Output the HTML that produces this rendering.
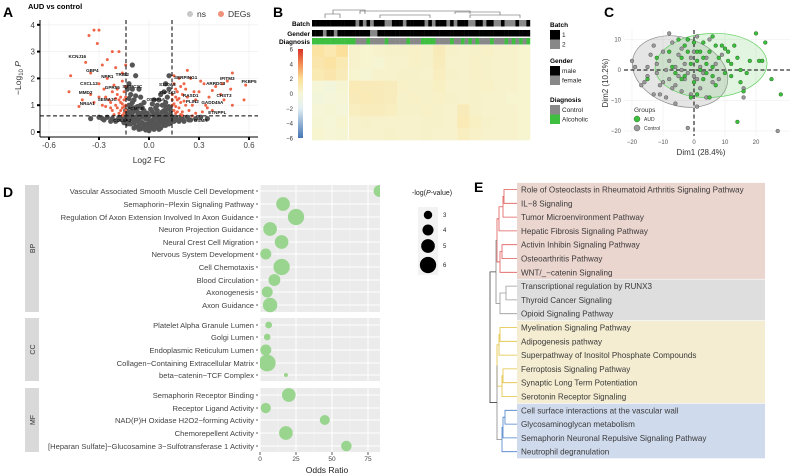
<!DOCTYPE html>
<html><head><meta charset="utf-8">
<style>
html,body{margin:0;padding:0;background:#fff;}
svg{display:block;font-family:"Liberation Sans",Arial,sans-serif;}
</style></head>
<body>
<svg id="fig" width="790" height="475" viewBox="0 0 790 475" xmlns="http://www.w3.org/2000/svg">
<g id="gA"></g>
<g id="gB"></g>
<g id="gC"></g>
<g id="gD"></g>
<g id="gE"></g>
</svg>
<script>
// ---------- Panel A data ----------
const aXTicks=[-0.6,-0.3,0.0,0.3,0.6];
const aYTicks=[0,1,2,3,4];
const aRed=[[-0.33,3.8],[-0.30,3.8],[-0.36,3.6],[-0.31,3.3],[-0.38,2.6],[-0.47,2.1],[-0.48,1.5],[-0.42,0.95],[-0.35,2.2],[-0.28,2.5],[-0.22,3.0],[-0.18,3.0],[-0.20,2.4],[-0.25,2.0],[-0.16,1.9],[-0.30,1.8],[-0.27,1.6],[-0.22,1.5],[-0.19,1.4],[-0.17,1.3],[-0.15,1.2],[-0.24,1.2],[-0.30,1.3],[-0.33,1.1],[-0.20,1.0],[-0.16,0.9],[-0.14,0.8],[-0.18,0.7],[-0.22,0.8],[-0.26,0.95],[-0.15,1.5],[-0.21,1.75],[-0.14,1.0],[-0.17,1.1],[-0.19,0.9],[-0.15,0.7],[-0.23,1.1],[-0.28,1.0],[-0.35,1.4],[-0.40,1.2],[-0.16,2.2],[-0.14,2.5],[-0.25,2.7],[-0.16,0.62],[-0.21,0.65],[-0.18,1.2],[-0.16,1.05],[-0.2,1.25],[-0.15,0.95],[-0.17,0.8],[-0.19,1.6],[-0.23,0.9],[-0.26,1.3],[-0.14,1.7],
[0.58,1.75],[0.57,1.2],[0.50,2.2],[0.49,1.6],[0.47,1.9],[0.45,1.2],[0.43,1.4],[0.40,1.7],[0.38,1.55],[0.36,1.3],[0.34,1.0],[0.33,1.8],[0.31,1.9],[0.30,1.5],[0.28,1.2],[0.26,1.0],[0.25,2.0],[0.23,2.3],[0.22,1.6],[0.20,1.4],[0.19,1.1],[0.18,0.9],[0.17,1.2],[0.16,1.6],[0.15,2.1],[0.15,0.8],[0.16,0.7],[0.20,0.75],[0.24,0.8],[0.28,0.7],[0.32,0.75],[0.14,1.4],[0.18,2.0],[0.21,1.8],[0.27,1.5],[0.35,0.9],[0.50,1.0],[0.44,1.8],[0.22,1.0],[0.17,1.5],[0.14,1.0],[0.38,0.8],[0.26,0.6],[0.20,0.62],[0.15,1.8],[0.19,1.7],[0.16,1.3],[0.14,1.2],[-0.14,1.3],[0.16,0.95],[0.18,1.25],[0.15,1.05],[0.21,1.15],[0.17,0.75],[0.23,1.3],[0.19,0.65]];
const aGrey=[[-0.10,2.5],[-0.08,2.1],[-0.12,1.8],[-0.06,1.6],[-0.11,1.4],[-0.05,1.3],[-0.09,1.2],[-0.03,1.1],[0.02,1.05],[0.06,1.2],[0.09,1.5],[0.10,1.8],[0.12,2.1],[0.11,1.3],[0.08,1.0],[-0.12,1.0],[-0.07,0.95],[0.04,0.9],[0.12,0.95],[-0.13,1.6],
[-0.30,0.55],[-0.27,0.45],[-0.25,0.55],[-0.22,0.5],[-0.20,0.4],[-0.18,0.55],[-0.16,0.45],[-0.15,0.35],[-0.13,0.6],[-0.12,0.45],[-0.11,0.3],[-0.10,0.7],[-0.10,0.5],[-0.09,0.35],[-0.08,0.2],[-0.08,0.8],[-0.07,0.6],[-0.06,0.45],[-0.06,0.25],[-0.05,0.7],[-0.05,0.12],[-0.04,0.55],[-0.04,0.35],[-0.03,0.2],[-0.03,0.8],[-0.02,0.5],[-0.02,0.08],[-0.01,0.3],[0.00,0.6],[0.00,0.05],[0.01,0.4],[0.01,0.15],[0.02,0.75],[0.02,0.25],[0.03,0.5],[0.03,0.1],[0.04,0.35],[0.04,0.65],[0.05,0.2],[0.05,0.8],[0.06,0.45],[0.06,0.3],[0.07,0.6],[0.07,0.15],[0.08,0.4],[0.08,0.75],[0.09,0.25],[0.09,0.55],[0.10,0.4],[0.10,0.7],[0.11,0.3],[0.11,0.55],[0.12,0.45],[0.13,0.6],[0.13,0.35],[0.14,0.5],[0.15,0.4],[0.16,0.55],[0.17,0.45],[0.19,0.5],[0.21,0.4],[0.23,0.55],[0.25,0.45],[0.28,0.5],[0.31,0.55],[-0.12,0.75],[-0.09,0.9],[0.11,0.85],[-0.14,0.8],[0.13,0.8],[-0.07,0.4],[0.05,0.55],[-0.03,0.65],[0.00,0.35],[0.02,0.45],[-0.01,0.7],[-0.02,0.3],[0.03,0.3],[-0.04,0.15],[0.06,0.1],[-0.35,0.5],[0.35,0.5],
[-0.13,0.3],[-0.11,0.6],[-0.09,0.15],[-0.07,0.75],[-0.06,0.1],[-0.04,0.9],[-0.02,0.65],[-0.01,0.5],[0.0,0.2],[0.01,0.85],[0.03,0.65],[0.04,0.2],[0.06,0.65],[0.07,0.35],[0.08,0.55],[0.09,0.8],[0.10,0.25],[0.12,0.65],[0.12,0.3],[-0.12,0.6],[-0.1,0.85],[-0.08,0.5],[-0.11,0.95],[0.1,0.95],[-0.19,0.45],[-0.23,0.4],[-0.28,0.5],[0.18,0.4],[0.2,0.5],[0.24,0.45],[-0.15,0.55],[0.15,0.55],[-0.05,1.0],[0.05,1.0],[-0.1,1.1],[0.1,1.1],[-0.08,1.35],[0.07,1.4],[-0.12,1.25],[0.12,1.6],[-0.1,1.6],[0.03,1.2]];
const aGenes=["KCNJ16","GBP4","NPR1","TRIB2","CXCL12","GPR55","SIRPC3C","MMD2","SEMA3C","NR4A1","PCMSB","COL6A3","SERPING1","S100A8","ZNF443","OSBPL6","RASD1","PLIN2","IFITM3","ARRDC3","FKBP5","CHST3","GADD45A","ETNPPL","OSMR"];
const aGeneFC=[-0.43,-0.34,-0.25,-0.16,-0.36,-0.22,-0.10,-0.38,-0.25,-0.37,-0.08,-0.16,0.22,0.11,0.11,0.04,0.25,0.26,0.47,0.40,0.60,0.45,0.38,0.41,0.31];
const aGeneP=[2.84,2.31,2.09,2.16,1.83,1.68,1.72,1.50,1.23,1.08,0.90,0.45,2.05,1.79,1.49,1.23,1.38,1.16,2.01,1.83,1.90,1.38,1.12,0.75,0.45];

// ---------- Panel B data ----------
const bHeat=[
[1.6,1.2,1.8,0.3,0.2,0.3,0.4,0.4,0.5,0.4,0.9,0.4,0.3,0.4,0.5,0.3,0.3,0.2],
[1.3,1.6,1.1,0.3,0.2,0.1,0.3,0.3,0.5,0.4,0.8,0.3,0.3,0.5,0.4,0.3,0.3,0.2],
[1.1,1.3,0.9,0.2,0.1,0.3,0.3,0.4,0.4,0.3,0.7,0.4,0.3,0.5,0.4,0.3,0.3,0.2],
[-0.1,-0.3,0.1,1.0,0.9,0.9,0.8,0.5,0.4,0.4,0.6,0.3,0.3,0.4,0.5,0.3,0.3,0.2],
[-0.3,-0.2,0,0.9,1.0,0.9,0.8,0.4,0.5,0.4,0.5,0.4,0.3,0.4,0.3,0.3,0.2,0.2],
[0,0.1,-0.2,0.7,0.8,0.8,0.7,0.4,0.4,0.5,0.4,0.3,0.9,0.4,0.3,0.3,0.3,0.2],
[0.1,-0.1,0.2,0.3,0.4,0.3,0.3,0.3,0.3,0.4,0.4,0.3,1.0,0.6,0.4,0.3,0.3,0.2],
[0.2,0,0.1,0.3,0.3,0.3,0.4,0.3,0.3,0.4,0.3,0.3,0.7,0.5,0.3,0.3,0.3,0.2]];
const bBatch=[1,1,1,1,1,1,1,1,1,1,1,1,2,1,2,1,2,1,1,1,2,2,1,1,1,2,1,1,1,1,1,2,1,2,1,1,1,2,1,2,1,1,1,2,2,1,1,2,1,1,2,2,1,2,2,2,1,2,2,1];
const bGender=[1,1,1,2,1,1,2,1,1,1,1,1,1,1,1,1,2,2,1,1,1,1,1,1,1,1,1,1,1,1,1,1,1,1,1,1,1,1,1,1,1,1,1,1,1,1,1,1,1,1,1,1,1,1,1,1,1,1,1,1];
const bDiag=[1,1,1,1,1,1,1,1,1,1,1,1,0,0,0,1,0,0,0,0,1,0,0,0,0,0,1,0,0,0,1,1,1,1,0,0,0,0,1,0,0,1,0,1,0,1,0,0,0,1,0,0,0,1,0,1,0,1,0,1];
const bScaleTicks=[6,4,2,0,-2,-4,-6];

// ---------- Panel C data ----------
const cXTicks=[-20,-10,0,10,20];
const cYTicks=[10,0,-10,-20];
const cControl=[[-20,3],[-19,1],[-17,-5],[-15,-2],[-14,5],[-13,8],[-12,-1],[-12,2],[-11,-8],[-10,-4],[-10,6],[-9,0],[-9,-9],[-8,3],[-8,-3],[-7,9],[-7,-6],[-6,1],[-6,-11],[-5,5],[-5,-2],[-4,7],[-4,-7],[-3,2],[-3,-3],[-2,10],[-2,-1],[-1,4],[-1,-8],[0,-2],[0,6],[1,-3],[1,11],[2,1],[2,-6],[3,-1],[4,4],[4,-9],[5,10],[6,-4],[7,2],[8,-3],[9,5],[-8,12],[-15,1],[-11,-5],[-13,-8],[-2,-19],[16,-6],[16,-9],[27,-20],[-6,-5],[-4,0],[1,-12],[-16,-4]];
const cAUD=[[-15,-3],[-12,4],[-8,6],[-6,-1],[-5,10],[-4,4],[-3,8],[-3,-2],[-2,6],[-1,2],[0,9],[0,-4],[1,3],[1,-8],[2,6],[2,0],[3,-3],[3,9],[4,2],[5,6],[5,-9],[6,1],[6,11],[7,-5],[8,4],[9,8],[10,7],[10,-1],[11,6],[12,2],[12,-2],[13,8],[14,4],[15,0],[15,-4],[17,-1],[18,3],[20,12],[21,3],[22,3],[23,9],[25,-3],[28,-8],[14,-17],[-1,-9],[-2,10],[4,-1],[7,8],[11,3],[1,6],[-4,-3],[3,4],[-7,1],[6,-2],[16,-7]];

// ---------- Panel D data ----------
const dTerms=["Vascular Associated Smooth Muscle Cell Development","Semaphorin\u2212Plexin Signaling Pathway","Regulation Of Axon Extension Involved In Axon Guidance","Neuron Projection Guidance","Neural Crest Cell Migration","Nervous System Development","Cell Chemotaxis","Blood Circulation","Axonogenesis","Axon Guidance",
"Platelet Alpha Granule Lumen","Golgi Lumen","Endoplasmic Reticulum Lumen","Collagen\u2212Containing Extracellular Matrix","beta\u2212catenin\u2212TCF Complex",
"Semaphorin Receptor Binding","Receptor Ligand Activity","NAD(P)H Oxidase H2O2\u2212forming Activity","Chemorepellent Activity","[Heparan Sulfate]\u2212Glucosamine 3\u2212Sulfotransferase 1 Activity"];
const dGroup=["BP","BP","BP","BP","BP","BP","BP","BP","BP","BP","CC","CC","CC","CC","CC","MF","MF","MF","MF","MF"];
const dOdds=[83,16,25,7,15,4,15,10,5,7,6,5,4,5,18,20,4,45,18,60];
const dLogP=[4.3,5,6,5,5,4,6,4.3,4,5.3,2.4,2.3,4,6.2,1.3,5,3.7,3.6,5,3.8];
const dXTicks=[0,25,50,75];
const dLegendVals=[3,4,5,6];

// ---------- Panel E data ----------
const ePathways=["Role of Osteoclasts in Rheumatoid Arthritis Signaling Pathway","IL\u22128 Signaling","Tumor Microenvironment Pathway","Hepatic Fibrosis Signaling Pathway","Activin Inhibin Signaling Pathway","Osteoarthritis Pathway","WNT/_\u2212catenin Signaling","Transcriptional regulation by RUNX3","Thyroid Cancer Signaling","Opioid Signaling Pathway","Myelination Signaling Pathway","Adipogenesis pathway","Superpathway of Inositol Phosphate Compounds","Ferroptosis Signaling Pathway","Synaptic Long Term Potentiation","Serotonin Receptor Signaling","Cell surface interactions at the vascular wall","Glycosaminoglycan metabolism","Semaphorin Neuronal Repulsive Signaling Pathway","Neutrophil degranulation"];
const eCluster=[0,0,0,0,0,0,0,1,1,1,2,2,2,2,2,2,3,3,3,3];
const eMerges=[[0,1,504,0],[20,2,503,0],[21,3,499,0],[4,5,502,0],[23,6,500,0],[22,24,497,0],
[7,8,506,1],[26,9,500,1],
[10,11,500,2],[28,12,499,2],[13,14,503,2],[30,15,502,2],[29,31,497,2],
[16,17,505,3],[33,18,503,3],[34,19,502,3],
[25,27,496,4],[32,35,497,4],[36,37,490,5]];

const NS="http://www.w3.org/2000/svg";
function mk(parent,tag,attrs){const e=document.createElementNS(NS,tag);for(const k in attrs)e.setAttribute(k,attrs[k]);parent.appendChild(e);return e;}
function tx(parent,x,y,s,attrs){const e=mk(parent,"text",Object.assign({x:x,y:y},attrs||{}));e.textContent=s;return e;}

// ================= Panel A =================
(function(){
const g=document.getElementById("gA");
const X=v=>149+v*166.7, Y=v=>132-v*26.8;
const L=40,R=258,T=20,B=137;
let t=tx(g,3,17,"A",{"font-size":14,"font-weight":"bold"});


t=tx(g,28,9,"AUD vs control",{"font-size":7.5,"font-weight":"bold"});


let c=mk(g,"circle",{cx:190,cy:14,r:3,fill:"#c8c8c8"});


t=tx(g,197,17,"ns",{"font-size":8.5,fill:"#333"});


c=mk(g,"circle",{cx:221,cy:14,r:3,fill:"#f0917a"});


t=tx(g,228,17,"DEGs",{"font-size":8.5,fill:"#333"});


aXTicks.forEach(v=>{const l=mk(g,"line",{x1:X(v),x2:X(v),y1:T,y2:B,stroke:"#ececec","stroke-width":0.6});

});
aYTicks.forEach(v=>{const l=mk(g,"line",{x1:L,x2:R,y1:Y(v),y2:Y(v),stroke:"#ececec","stroke-width":0.6});

});
aGrey.forEach(p=>{const e=mk(g,"circle",{cx:X(p[0]),cy:Y(p[1]),r:2.6,fill:"#555"});

});
aRed.forEach(p=>{const e=mk(g,"circle",{cx:X(p[0]),cy:Y(p[1]),r:1.5,fill:"#ef6548"});

});
[-0.138,0.138].forEach(v=>{const l=mk(g,"line",{x1:X(v),x2:X(v),y1:T,y2:B,stroke:"#000","stroke-width":1,"stroke-dasharray":"4,2.5"});

});
let l=mk(g,"line",{x1:L,x2:R,y1:Y(0.6),y2:Y(0.6),stroke:"#000","stroke-width":1,"stroke-dasharray":"4,2.5"});


aGenes.forEach((s,i)=>{const e=tx(g,X(aGeneFC[i]),Y(aGeneP[i])+2,s,{"font-size":4.6,"font-weight":"bold","text-anchor":"middle",fill:"#111"});

});
l=mk(g,"line",{x1:L,x2:L,y1:T,y2:B,stroke:"#000","stroke-width":1});


l=mk(g,"line",{x1:L,x2:R,y1:B,y2:B,stroke:"#000","stroke-width":1});


aXTicks.forEach(v=>{const k=mk(g,"rect",{x:X(v)-1,y:B,width:2,height:3,fill:"#000"});


const e=tx(g,X(v),B+11,v.toFixed(1),{"font-size":8,"text-anchor":"middle",fill:"#444"});

});
aYTicks.forEach(v=>{const k=mk(g,"rect",{x:L-3,y:Y(v)-1,width:3,height:2,fill:"#000"});


const e=tx(g,L-5,Y(v)+3,String(v),{"font-size":8,"text-anchor":"end",fill:"#444"});

});
t=tx(g,149,163,"Log2 FC",{"font-size":8.5,"text-anchor":"middle",fill:"#333"});


t=mk(g,"text",{x:0,y:0,"font-size":8.5,"text-anchor":"middle",fill:"#333",transform:"translate(21,78) rotate(-90)"});
t.innerHTML='\u2212Log<tspan font-size="6" dy="2">10</tspan><tspan dy="-2" font-style="italic"> P</tspan>';


})();

// ================= Panel B =================
(function(){
const g=document.getElementById("gB");
const HX=312,HW=218,HY=45,HH=95;
let t=tx(g,273,17,"B",{"font-size":14,"font-weight":"bold"});


function lerp(a,b,f){return a.map((v,i)=>Math.round(v+(b[i]-v)*f));}
const stops=[[-6,[69,117,180]],[-2,[226,240,244]],[0,[246,246,214]],[2,[252,222,150]],[4,[243,140,82]],[6,[215,48,39]]];
function col(v){v=Math.max(-6,Math.min(6,v));for(let i=0;i<stops.length-1;i++){if(v<=stops[i+1][0]){const f=(v-stops[i][0])/(stops[i+1][0]-stops[i][0]);const c=lerp(stops[i][1],stops[i+1][1],f);return "rgb("+c.join(",")+")";}}return "rgb(215,48,39)";}
const nr=bHeat.length,nc=bHeat[0].length,cw=HW/nc,rh=HH/nr;
bHeat.forEach((row,r)=>row.forEach((v,c)=>{const e=mk(g,"rect",{x:HX+c*cw,y:HY+r*rh,width:cw+0.3,height:rh+0.3,fill:col(v)});

}));
let s=mk(g,"line",{x1:HX+3*cw,x2:HX+3*cw,y1:HY,y2:HY+HH,stroke:"#fff","stroke-width":0.8});


const n=bBatch.length,w=HW/n;
const rowsA=[["Batch",bBatch,20,v=>v===1?"#000":"#888"],["Gender",bGender,30,v=>v===1?"#000":"#888"],["Diagnosis",bDiag,38,v=>v===1?"#3fbf3f":"#888"]];
rowsA.forEach(ra=>{const lab=tx(g,HX-2,ra[2]+6,ra[0],{"font-size":6.5,"font-weight":"bold","text-anchor":"end"});


ra[1].forEach((v,i)=>{const e=mk(g,"rect",{x:HX+i*w,y:ra[2],width:w+0.2,height:6.5,fill:ra[3](v)});

});});
const d=mk(g,"path",{d:"M325,18V14H340V18M333,14V10H365V14M360,14V11H470V14M455,14V12H500V15M380,18V15H430V18M470,18V15H520V18",stroke:"#555","stroke-width":0.6,fill:"none"});


const cb=mk(g,"defs",{});
const lg=mk(cb,"linearGradient",{id:"cbg",x1:0,y1:1,x2:0,y2:0});
stops.forEach(st=>{mk(lg,"stop",{offset:(st[0]+6)/12,"stop-color":"rgb("+st[1].join(",")+")"});});
const bar=mk(g,"rect",{x:298,y:49,width:5,height:89,fill:"url(#cbg)"});


bScaleTicks.forEach(v=>{const e=tx(g,293,49+(6-v)/12*89+2.5,(v<0?"\u2212":"")+Math.abs(v),{"font-size":6,"text-anchor":"end",fill:"#333"});

});
const L=[["Batch",27,[["1","#000"],["2","#888"]]],["Gender",63,[["male","#000"],["female","#888"]]],["Diagnosis",102,[["Control","#888"],["Alcoholic","#3fbf3f"]]]];
L.forEach(grp=>{const h=tx(g,550,grp[1],grp[0],{"font-size":6.5,"font-weight":"bold"});


grp[2].forEach((it,i)=>{const y=grp[1]+3+i*9.5;const r=mk(g,"rect",{x:550,y:y,width:10,height:9.5,fill:it[1]});


const e=tx(g,562,y+7,it[0],{"font-size":6.5,fill:"#222"});

});});
})();

// ================= Panel C =================
(function(){
const g=document.getElementById("gC");
const X=v=>694+v*3.1, Y=v=>70-v*3.05;
const L=624,R=790,T=30,B=136;
let t=tx(g,604,17,"C",{"font-size":14,"font-weight":"bold"});


cXTicks.forEach(v=>{const l=mk(g,"line",{x1:X(v),x2:X(v),y1:T,y2:B,stroke:"#ececec","stroke-width":0.6});


const e=tx(g,X(v),B+8,(v<0?"\u2212":"")+Math.abs(v),{"font-size":6,"text-anchor":"middle",fill:"#555"});

});
cYTicks.forEach(v=>{const l=mk(g,"line",{x1:L,x2:R,y1:Y(v),y2:Y(v),stroke:"#ececec","stroke-width":0.6});


const e=tx(g,L-3,Y(v)+2,(v<0?"\u2212":"")+Math.abs(v),{"font-size":6,"text-anchor":"end",fill:"#555"});

});
let el=mk(g,"ellipse",{cx:X(-4.5),cy:Y(-0.5),rx:49,ry:34,transform:"rotate(18 "+X(-4.5)+" "+Y(-0.5)+")",fill:"rgba(150,150,150,0.25)",stroke:"#888","stroke-width":0.7});


el=mk(g,"ellipse",{cx:X(5.5),cy:Y(1.5),rx:56,ry:32,transform:"rotate(-3 "+X(5.5)+" "+Y(1.5)+")",fill:"rgba(120,210,120,0.22)",stroke:"#5fcf5f","stroke-width":0.7});


let l=mk(g,"line",{x1:X(0),x2:X(0),y1:T,y2:B,stroke:"#000","stroke-width":1,"stroke-dasharray":"4,2.5"});


l=mk(g,"line",{x1:L,x2:R,y1:Y(0),y2:Y(0),stroke:"#000","stroke-width":1,"stroke-dasharray":"4,2.5"});


cControl.forEach(p=>{const e=mk(g,"circle",{cx:X(p[0]),cy:Y(p[1]),r:1.9,fill:"#9a9a9a",stroke:"#444","stroke-width":0.4});

});
cAUD.forEach(p=>{const e=mk(g,"circle",{cx:X(p[0]),cy:Y(p[1]),r:1.9,fill:"#3cc03c",stroke:"#245024","stroke-width":0.4});

});
t=tx(g,634,112,"Groups",{"font-size":6.5,fill:"#333"});


let c=mk(g,"circle",{cx:637,cy:119,r:3,fill:"#3cc03c",stroke:"#245024","stroke-width":0.4});


t=tx(g,644,121,"AUD",{"font-size":5,fill:"#333"});


c=mk(g,"circle",{cx:637,cy:128,r:3,fill:"#9a9a9a",stroke:"#444","stroke-width":0.4});


t=tx(g,644,130,"Control",{"font-size":5,fill:"#333"});


t=tx(g,701,155,"Dim1 (28.4%)",{"font-size":8,"text-anchor":"middle",fill:"#333"});


t=tx(g,0,0,"Dim2 (10.2%)",{"font-size":8,"text-anchor":"middle",fill:"#333",transform:"translate(608,83) rotate(-90)"});


})();

// ================= Panel D =================
(function(){
const g=document.getElementById("gD");
const X=v=>260+v*1.44;
const rowY=[191,204,217,229,242,254,267,280,292,305,325,337,350,363,375,395,408,420,433,446];
const panels=[["BP",185,312],["CC",318,381],["MF",388,452]];
const R=v=>0.3+v*1.38;
let t=tx(g,3,197,"D",{"font-size":14,"font-weight":"bold"});


panels.forEach(p=>{const s=mk(g,"rect",{x:25,y:p[1],width:14,height:p[2]-p[1],fill:"#d9d9d9"});


const st=tx(g,0,0,p[0],{"font-size":7,"text-anchor":"middle",fill:"#333",transform:"translate(35,"+((p[1]+p[2])/2)+") rotate(-90)"});


const bg=mk(g,"rect",{x:260,y:p[1],width:120,height:p[2]-p[1],fill:"#ebebeb"});


[12.5,37.5,62.5].forEach(v=>{const l=mk(g,"line",{x1:X(v),x2:X(v),y1:p[1],y2:p[2],stroke:"#f4f4f4","stroke-width":0.5});

});
dXTicks.forEach(v=>{const l=mk(g,"line",{x1:X(v),x2:X(v),y1:p[1],y2:p[2],stroke:"#fff","stroke-width":1});

});});
rowY.forEach(y=>{const l=mk(g,"line",{x1:260,x2:380,y1:y,y2:y,stroke:"#fff","stroke-width":1});

});
const cp=mk(g,"clipPath",{id:"dclip"});mk(cp,"rect",{x:260,y:180,width:120,height:280});
dTerms.forEach((s,i)=>{const e=tx(g,254,rowY[i]+2.8,s,{"font-size":7.6,"text-anchor":"end",fill:"#444"});


const k=mk(g,"line",{x1:256,x2:258,y1:rowY[i],y2:rowY[i],stroke:"#333","stroke-width":0.8});


const c=mk(g,"circle",{cx:X(dOdds[i]),cy:rowY[i],r:R(dLogP[i])*0.95,fill:"#9ad58f","clip-path":"url(#dclip)"});

});
dXTicks.forEach(v=>{const e=tx(g,X(v),461,String(v),{"font-size":6.5,"text-anchor":"middle",fill:"#444"});


const k=mk(g,"line",{x1:X(v),x2:X(v),y1:452,y2:455,stroke:"#333","stroke-width":0.8});

});
t=tx(g,327,473,"Odds Ratio",{"font-size":8.5,"text-anchor":"middle",fill:"#222"});


t=mk(g,"text",{x:412,y:195,"font-size":7,fill:"#222"});
t.innerHTML='-log(<tspan font-style="italic">P</tspan>-value)';


const bgL=mk(g,"rect",{x:418,y:207,width:20,height:68,fill:"#f2f2f2"});


const ly=[215,230,246,265];
dLegendVals.forEach((v,i)=>{const c=mk(g,"circle",{cx:428,cy:ly[i],r:R(v)*0.95,fill:"#000"});


const e=tx(g,443,ly[i]+2,String(v),{"font-size":6,fill:"#222"});

});
})();

// ================= Panel E =================
(function(){
const g=document.getElementById("gE");
const rowY=i=>189.5+i*13.8;
const boxCols=["#ebd5cf","#dedede","#f4edd1","#cfdaec"];
const lineCols=["#e05a5a","#9a9a9a","#e2c13c","#4a7fc8","#888","#444"];
let t=tx(g,474,192,"E",{"font-size":14,"font-weight":"bold"});


[0,1,2,3].forEach(k=>{const idx=eCluster.map((c,i)=>c===k?i:-1).filter(i=>i>=0);
const y0=rowY(idx[0])-6.6,y1=rowY(idx[idx.length-1])+6.6;
const r=mk(g,"rect",{x:517,y:y0,width:248,height:y1-y0,fill:boxCols[k]});

});
ePathways.forEach((s,i)=>{const e=tx(g,521,rowY(i)+3,s,{"font-size":8.1,fill:"#3a3a3a"});

});
const nodes=ePathways.map((s,i)=>({x:517,y:rowY(i)}));
eMerges.forEach(m=>{const a=nodes[m[0]],b=nodes[m[1]],x=m[2],col=lineCols[m[3]];
const p=mk(g,"path",{d:"M"+a.x+","+a.y+"H"+x+"V"+b.y+"H"+b.x,stroke:col,"stroke-width":0.8,fill:"none"});


nodes.push({x:x,y:(a.y+b.y)/2});});
})();
</script>
</body></html>
